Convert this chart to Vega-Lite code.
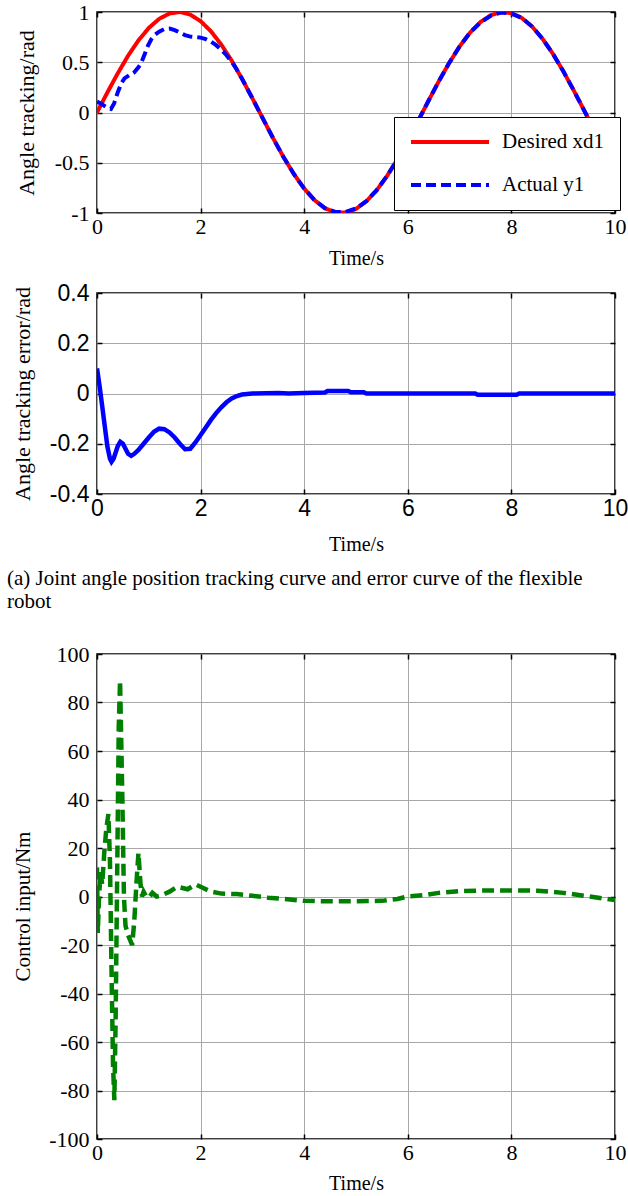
{
  "$schema": "https://vega.github.io/schema/vega-lite/v6.json",
  "padding": {"left": 6, "top": 0, "right": 0, "bottom": 0},
  "background": "white",
  "spacing": 12,
  "datasets": {
    "angle": [
      {"t": 0.0, "series": "Desired xd1", "v": 0.0},
      {"t": 0.2, "series": "Desired xd1", "v": 0.199},
      {"t": 0.4, "series": "Desired xd1", "v": 0.389},
      {"t": 0.6, "series": "Desired xd1", "v": 0.565},
      {"t": 0.8, "series": "Desired xd1", "v": 0.717},
      {"t": 1.0, "series": "Desired xd1", "v": 0.841},
      {"t": 1.2, "series": "Desired xd1", "v": 0.932},
      {"t": 1.4, "series": "Desired xd1", "v": 0.985},
      {"t": 1.6, "series": "Desired xd1", "v": 1.0},
      {"t": 1.8, "series": "Desired xd1", "v": 0.974},
      {"t": 2.0, "series": "Desired xd1", "v": 0.909},
      {"t": 2.2, "series": "Desired xd1", "v": 0.808},
      {"t": 2.4, "series": "Desired xd1", "v": 0.675},
      {"t": 2.6, "series": "Desired xd1", "v": 0.516},
      {"t": 2.8, "series": "Desired xd1", "v": 0.335},
      {"t": 3.0, "series": "Desired xd1", "v": 0.141},
      {"t": 3.2, "series": "Desired xd1", "v": -0.058},
      {"t": 3.4, "series": "Desired xd1", "v": -0.256},
      {"t": 3.6, "series": "Desired xd1", "v": -0.443},
      {"t": 3.8, "series": "Desired xd1", "v": -0.612},
      {"t": 4.0, "series": "Desired xd1", "v": -0.757},
      {"t": 4.2, "series": "Desired xd1", "v": -0.872},
      {"t": 4.4, "series": "Desired xd1", "v": -0.952},
      {"t": 4.6, "series": "Desired xd1", "v": -0.994},
      {"t": 4.8, "series": "Desired xd1", "v": -0.996},
      {"t": 5.0, "series": "Desired xd1", "v": -0.959},
      {"t": 5.2, "series": "Desired xd1", "v": -0.883},
      {"t": 5.4, "series": "Desired xd1", "v": -0.773},
      {"t": 5.6, "series": "Desired xd1", "v": -0.631},
      {"t": 5.8, "series": "Desired xd1", "v": -0.465},
      {"t": 6.0, "series": "Desired xd1", "v": -0.279},
      {"t": 6.2, "series": "Desired xd1", "v": -0.083},
      {"t": 6.4, "series": "Desired xd1", "v": 0.117},
      {"t": 6.6, "series": "Desired xd1", "v": 0.312},
      {"t": 6.8, "series": "Desired xd1", "v": 0.494},
      {"t": 7.0, "series": "Desired xd1", "v": 0.657},
      {"t": 7.2, "series": "Desired xd1", "v": 0.794},
      {"t": 7.4, "series": "Desired xd1", "v": 0.899},
      {"t": 7.6, "series": "Desired xd1", "v": 0.968},
      {"t": 7.8, "series": "Desired xd1", "v": 0.999},
      {"t": 8.0, "series": "Desired xd1", "v": 0.989},
      {"t": 8.2, "series": "Desired xd1", "v": 0.941},
      {"t": 8.4, "series": "Desired xd1", "v": 0.855},
      {"t": 8.6, "series": "Desired xd1", "v": 0.734},
      {"t": 8.8, "series": "Desired xd1", "v": 0.585},
      {"t": 9.0, "series": "Desired xd1", "v": 0.412},
      {"t": 9.2, "series": "Desired xd1", "v": 0.223},
      {"t": 9.4, "series": "Desired xd1", "v": 0.025},
      {"t": 9.6, "series": "Desired xd1", "v": -0.174},
      {"t": 9.8, "series": "Desired xd1", "v": -0.366},
      {"t": 10.0, "series": "Desired xd1", "v": -0.544},
      {"t": 0.0, "series": "Actual y1", "v": 0.11},
      {"t": 0.1, "series": "Actual y1", "v": 0.08},
      {"t": 0.2, "series": "Actual y1", "v": 0.045},
      {"t": 0.27, "series": "Actual y1", "v": 0.035},
      {"t": 0.33, "series": "Actual y1", "v": 0.09},
      {"t": 0.4, "series": "Actual y1", "v": 0.2},
      {"t": 0.47, "series": "Actual y1", "v": 0.29},
      {"t": 0.53, "series": "Actual y1", "v": 0.34},
      {"t": 0.62, "series": "Actual y1", "v": 0.37},
      {"t": 0.72, "series": "Actual y1", "v": 0.4},
      {"t": 0.8, "series": "Actual y1", "v": 0.45},
      {"t": 0.85, "series": "Actual y1", "v": 0.49},
      {"t": 0.92, "series": "Actual y1", "v": 0.58},
      {"t": 0.98, "series": "Actual y1", "v": 0.66},
      {"t": 1.05, "series": "Actual y1", "v": 0.73},
      {"t": 1.11, "series": "Actual y1", "v": 0.77},
      {"t": 1.2, "series": "Actual y1", "v": 0.805},
      {"t": 1.3, "series": "Actual y1", "v": 0.83},
      {"t": 1.4, "series": "Actual y1", "v": 0.835},
      {"t": 1.5, "series": "Actual y1", "v": 0.82},
      {"t": 1.6, "series": "Actual y1", "v": 0.795},
      {"t": 1.7, "series": "Actual y1", "v": 0.77},
      {"t": 1.8, "series": "Actual y1", "v": 0.755},
      {"t": 1.9, "series": "Actual y1", "v": 0.75},
      {"t": 2.0, "series": "Actual y1", "v": 0.745},
      {"t": 2.1, "series": "Actual y1", "v": 0.73},
      {"t": 2.2, "series": "Actual y1", "v": 0.705},
      {"t": 2.3, "series": "Actual y1", "v": 0.67},
      {"t": 2.4, "series": "Actual y1", "v": 0.625},
      {"t": 2.5, "series": "Actual y1", "v": 0.57},
      {"t": 2.6, "series": "Actual y1", "v": 0.505},
      {"t": 2.7, "series": "Actual y1", "v": 0.425},
      {"t": 2.8, "series": "Actual y1", "v": 0.335},
      {"t": 3.0, "series": "Actual y1", "v": 0.141},
      {"t": 3.2, "series": "Actual y1", "v": -0.058},
      {"t": 3.4, "series": "Actual y1", "v": -0.256},
      {"t": 3.6, "series": "Actual y1", "v": -0.443},
      {"t": 3.8, "series": "Actual y1", "v": -0.612},
      {"t": 4.0, "series": "Actual y1", "v": -0.757},
      {"t": 4.2, "series": "Actual y1", "v": -0.872},
      {"t": 4.4, "series": "Actual y1", "v": -0.952},
      {"t": 4.6, "series": "Actual y1", "v": -0.99},
      {"t": 4.8, "series": "Actual y1", "v": -0.99},
      {"t": 5.0, "series": "Actual y1", "v": -0.955},
      {"t": 5.2, "series": "Actual y1", "v": -0.883},
      {"t": 5.4, "series": "Actual y1", "v": -0.773},
      {"t": 5.6, "series": "Actual y1", "v": -0.631},
      {"t": 5.8, "series": "Actual y1", "v": -0.465},
      {"t": 6.0, "series": "Actual y1", "v": -0.279},
      {"t": 6.2, "series": "Actual y1", "v": -0.083},
      {"t": 6.4, "series": "Actual y1", "v": 0.117},
      {"t": 6.6, "series": "Actual y1", "v": 0.312},
      {"t": 6.8, "series": "Actual y1", "v": 0.494},
      {"t": 7.0, "series": "Actual y1", "v": 0.657},
      {"t": 7.2, "series": "Actual y1", "v": 0.794},
      {"t": 7.4, "series": "Actual y1", "v": 0.894},
      {"t": 7.6, "series": "Actual y1", "v": 0.963},
      {"t": 7.8, "series": "Actual y1", "v": 0.994},
      {"t": 8.0, "series": "Actual y1", "v": 0.984},
      {"t": 8.2, "series": "Actual y1", "v": 0.941},
      {"t": 8.4, "series": "Actual y1", "v": 0.855},
      {"t": 8.6, "series": "Actual y1", "v": 0.734},
      {"t": 8.8, "series": "Actual y1", "v": 0.585},
      {"t": 9.0, "series": "Actual y1", "v": 0.412},
      {"t": 9.2, "series": "Actual y1", "v": 0.223},
      {"t": 9.4, "series": "Actual y1", "v": 0.025},
      {"t": 9.6, "series": "Actual y1", "v": -0.174},
      {"t": 9.8, "series": "Actual y1", "v": -0.366},
      {"t": 10.0, "series": "Actual y1", "v": -0.544}
    ],
    "error": [
      {"t": 0.0, "e": 0.1}, {"t": 0.05, "e": 0.03}, {"t": 0.1, "e": -0.05}, {"t": 0.15, "e": -0.13},
      {"t": 0.2, "e": -0.21}, {"t": 0.25, "e": -0.26}, {"t": 0.28, "e": -0.272}, {"t": 0.32, "e": -0.26},
      {"t": 0.36, "e": -0.235}, {"t": 0.4, "e": -0.21}, {"t": 0.45, "e": -0.192}, {"t": 0.5, "e": -0.2},
      {"t": 0.55, "e": -0.22}, {"t": 0.6, "e": -0.24}, {"t": 0.66, "e": -0.248}, {"t": 0.72, "e": -0.24},
      {"t": 0.8, "e": -0.225}, {"t": 0.9, "e": -0.2}, {"t": 1.0, "e": -0.175}, {"t": 1.1, "e": -0.152},
      {"t": 1.2, "e": -0.14}, {"t": 1.3, "e": -0.142}, {"t": 1.4, "e": -0.155}, {"t": 1.5, "e": -0.175},
      {"t": 1.6, "e": -0.2}, {"t": 1.7, "e": -0.222}, {"t": 1.8, "e": -0.22}, {"t": 1.9, "e": -0.195},
      {"t": 2.0, "e": -0.165}, {"t": 2.1, "e": -0.135}, {"t": 2.2, "e": -0.105}, {"t": 2.3, "e": -0.078},
      {"t": 2.4, "e": -0.055}, {"t": 2.5, "e": -0.035}, {"t": 2.6, "e": -0.02}, {"t": 2.7, "e": -0.01},
      {"t": 2.8, "e": -0.004}, {"t": 3.0, "e": 0.0}, {"t": 3.5, "e": 0.002}, {"t": 3.7, "e": 0.0},
      {"t": 4.0, "e": 0.002}, {"t": 4.4, "e": 0.004}, {"t": 4.45, "e": 0.01}, {"t": 4.85, "e": 0.01},
      {"t": 4.9, "e": 0.005}, {"t": 5.15, "e": 0.005}, {"t": 5.2, "e": 0.0}, {"t": 7.3, "e": 0.0},
      {"t": 7.35, "e": -0.005}, {"t": 8.1, "e": -0.005}, {"t": 8.15, "e": 0.0}, {"t": 10.0, "e": 0.0}
    ],
    "control": [
      {"t": 0.0, "u": 12}, {"t": 0.015, "u": -15}, {"t": 0.04, "u": 0}, {"t": 0.07, "u": 10},
      {"t": 0.1, "u": 5}, {"t": 0.14, "u": 18}, {"t": 0.18, "u": 28}, {"t": 0.22, "u": 34},
      {"t": 0.25, "u": 15}, {"t": 0.28, "u": -30}, {"t": 0.31, "u": -70}, {"t": 0.335, "u": -84},
      {"t": 0.36, "u": -50}, {"t": 0.39, "u": 10}, {"t": 0.42, "u": 70}, {"t": 0.445, "u": 89},
      {"t": 0.49, "u": 40}, {"t": 0.52, "u": 0}, {"t": 0.55, "u": -12}, {"t": 0.6, "u": -16},
      {"t": 0.68, "u": -20}, {"t": 0.72, "u": -10}, {"t": 0.76, "u": 5}, {"t": 0.8, "u": 18},
      {"t": 0.84, "u": 5}, {"t": 0.87, "u": 0}, {"t": 0.9, "u": 2}, {"t": 0.95, "u": 0},
      {"t": 1.0, "u": -0.5}, {"t": 1.07, "u": 1.5}, {"t": 1.15, "u": 0}, {"t": 1.25, "u": 0.5},
      {"t": 1.4, "u": 2}, {"t": 1.55, "u": 4}, {"t": 1.65, "u": 3.5}, {"t": 1.75, "u": 3},
      {"t": 1.9, "u": 5}, {"t": 2.0, "u": 4}, {"t": 2.2, "u": 2}, {"t": 2.4, "u": 1.2},
      {"t": 2.7, "u": 1}, {"t": 3.0, "u": 0.3}, {"t": 3.3, "u": -0.5}, {"t": 3.6, "u": -1},
      {"t": 4.0, "u": -1.8}, {"t": 4.5, "u": -2}, {"t": 5.0, "u": -2}, {"t": 5.5, "u": -1.8},
      {"t": 5.8, "u": -1}, {"t": 6.0, "u": 0}, {"t": 6.3, "u": 0.5}, {"t": 6.6, "u": 1.5},
      {"t": 7.0, "u": 2.2}, {"t": 7.5, "u": 2.5}, {"t": 8.0, "u": 2.5}, {"t": 8.5, "u": 2.4},
      {"t": 9.0, "u": 1.5}, {"t": 9.5, "u": 0}, {"t": 10.0, "u": -1.5}
    ]
  },
  "vconcat": [
    {
      "width": 518,
      "height": 201,
      "layer": [
        {
          "data": {"name": "angle"},
          "mark": {"type": "line", "clip": true, "strokeWidth": 4},
          "encoding": {
            "x": {"field": "t", "type": "quantitative", "scale": {"domain": [0, 10], "nice": false},
                  "axis": {"values": [0, 2, 4, 6, 8, 10], "title": "Time/s", "labelFontSize": 22, "titleFontSize": 20, "labelPadding": 8, "titlePadding": 11, "labelExpr": "datum.value + ''"}},
            "y": {"field": "v", "type": "quantitative", "scale": {"domain": [-1, 1], "nice": false},
                  "axis": {"values": [-1, -0.5, 0, 0.5, 1], "title": "Angle tracking/rad", "labelFontSize": 22, "titleFontSize": 22, "labelPadding": 13, "titlePadding": 16, "labelExpr": "datum.value + ''"}},
            "color": {"field": "series", "type": "nominal",
                      "scale": {"domain": ["Desired xd1", "Actual y1"], "range": ["#ff0000", "#0000ff"]},
                      "legend": {"title": null, "orient": "none", "legendX": 297, "legendY": 105, "padding": 15,
                                 "strokeColor": "black", "fillColor": "white", "cornerRadius": 0,
                                 "symbolType": "stroke", "symbolSize": 6084, "symbolStrokeWidth": 4,
                                 "clipHeight": 20, "rowPadding": 22, "labelFontSize": 21,
                                 "labelFont": "Liberation Serif", "labelColor": "black", "labelOffset": 11}},
            "strokeDash": {"field": "series", "type": "nominal",
                           "scale": {"domain": ["Desired xd1", "Actual y1"], "range": [[1, 0], [10, 5]]},
                           "legend": {"title": null}}
          }
        },
        {
          "data": {"name": "angle"},
          "mark": {"type": "line", "opacity": 0},
          "encoding": {
            "x": {"field": "t", "type": "quantitative", "scale": {"domain": [0, 10], "nice": false},
                  "axis": {"orient": "top", "values": [0, 2, 4, 6, 8, 10], "labels": false, "grid": false, "title": null}},
            "y": {"field": "v", "type": "quantitative", "scale": {"domain": [-1, 1], "nice": false},
                  "axis": {"orient": "right", "values": [-1, -0.5, 0, 0.5, 1], "labels": false, "grid": false, "title": null}},
            "detail": {"field": "series"}
          }
        }
      ],
      "resolve": {"scale": {"x": "independent", "y": "independent"}}
    },
    {
      "width": 518,
      "height": 201,
      "layer": [
        {
          "data": {"name": "error"},
          "mark": {"type": "line", "clip": true, "strokeWidth": 4.5, "color": "#0000ff"},
          "encoding": {
            "x": {"field": "t", "type": "quantitative", "scale": {"domain": [0, 10], "nice": false},
                  "axis": {"values": [0, 2, 4, 6, 8, 10], "title": "Time/s", "labelFont": "Liberation Sans", "labelFontSize": 23, "titleFontSize": 20, "labelPadding": 8, "titlePadding": 14, "labelExpr": "datum.value + ''"}},
            "y": {"field": "e", "type": "quantitative", "scale": {"domain": [-0.4, 0.4], "nice": false},
                  "axis": {"values": [-0.4, -0.2, 0, 0.2, 0.4], "title": "Angle tracking error/rad", "labelFont": "Liberation Sans", "labelFontSize": 23, "titleFontSize": 22, "labelPadding": 13, "titlePadding": 15, "labelExpr": "datum.value + ''"}}
          }
        },
        {
          "data": {"name": "error"},
          "mark": {"type": "line", "opacity": 0},
          "encoding": {
            "x": {"field": "t", "type": "quantitative", "scale": {"domain": [0, 10], "nice": false},
                  "axis": {"orient": "top", "values": [0, 2, 4, 6, 8, 10], "labels": false, "grid": false, "title": null}},
            "y": {"field": "e", "type": "quantitative", "scale": {"domain": [-0.4, 0.4], "nice": false},
                  "axis": {"orient": "right", "values": [-0.4, -0.2, 0, 0.2, 0.4], "labels": false, "grid": false, "title": null}}
          }
        }
      ],
      "resolve": {"scale": {"x": "independent", "y": "independent"}}
    },
    {
      "width": 518,
      "height": 485,
      "title": {"text": ["(a) Joint angle position tracking curve and error curve of the flexible", "robot"],
                "anchor": "start", "frame": "group", "dx": -90, "fontSize": 21, "font": "Liberation Serif",
                "fontWeight": "normal", "lineHeight": 23, "offset": 31, "color": "black"},
      "layer": [
        {
          "data": {"name": "control"},
          "mark": {"type": "line", "clip": true, "strokeWidth": 4.5, "color": "#008000", "strokeDash": [12, 6]},
          "encoding": {
            "x": {"field": "t", "type": "quantitative", "scale": {"domain": [0, 10], "nice": false},
                  "axis": {"values": [0, 2, 4, 6, 8, 10], "title": "Time/s", "labelFontSize": 22, "titleFontSize": 20, "labelPadding": 8, "titlePadding": 10, "labelExpr": "datum.value + ''"}},
            "y": {"field": "u", "type": "quantitative", "scale": {"domain": [-100, 100], "nice": false},
                  "axis": {"values": [-100, -80, -60, -40, -20, 0, 20, 40, 60, 80, 100], "title": "Control input/Nm", "labelFontSize": 22, "titleFontSize": 21, "labelPadding": 13, "titlePadding": 15, "titleY": 252, "labelExpr": "datum.value + ''"}}
          }
        },
        {
          "data": {"name": "control"},
          "mark": {"type": "line", "opacity": 0},
          "encoding": {
            "x": {"field": "t", "type": "quantitative", "scale": {"domain": [0, 10], "nice": false},
                  "axis": {"orient": "top", "values": [0, 2, 4, 6, 8, 10], "labels": false, "grid": false, "title": null}},
            "y": {"field": "u", "type": "quantitative", "scale": {"domain": [-100, 100], "nice": false},
                  "axis": {"orient": "right", "values": [-100, -80, -60, -40, -20, 0, 20, 40, 60, 80, 100], "labels": false, "grid": false, "title": null}}
          }
        }
      ],
      "resolve": {"scale": {"x": "independent", "y": "independent"}}
    }
  ],
  "config": {
    "view": {"stroke": "black", "strokeWidth": 1.5},
    "axis": {"grid": true, "gridColor": "#a8a8a8", "gridWidth": 1, "domain": false, "ticks": true, "labelFlush": false,
             "tickColor": "black", "tickSize": -5, "tickWidth": 1.5, "labelColor": "black", "titleColor": "black",
             "titleFontWeight": "normal", "labelFont": "Liberation Serif", "titleFont": "Liberation Serif"}
  }
}
